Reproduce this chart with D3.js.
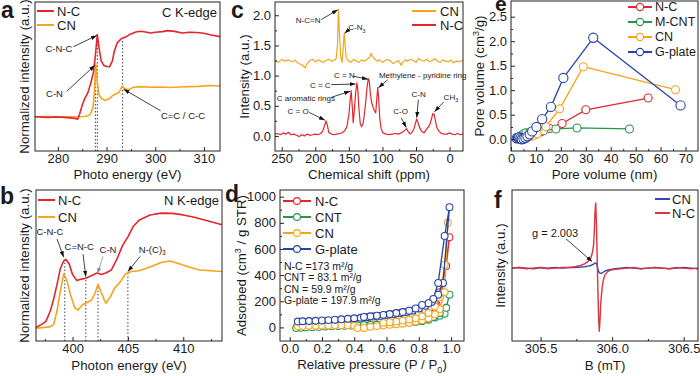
<!DOCTYPE html>
<html>
<head>
<meta charset="utf-8">
<script src="https://cdn.jsdelivr.net/npm/d3@7"></script>
<style>
  body { margin: 0; background: #fff; }
  svg text { fill: #1a1a1a; }
</style>
</head>
<body>
<svg id="fig" width="700" height="376"></svg>
<script>
// ---------- panel a : C K-edge NEXAFS ----------
const aEnergyNC = [275,278,280,282,283.5,284.1,284.5,285,285.5,286.2,286.8,287.3,287.7,288.1,288.5,288.9,289.4,290,290.6,291.2,291.6,292.2,293,294,295,296,297,298,299,300,301.5,302.5,304,305.5,307,308.5,310,311.5,313.5];
const aNC = [0.23,0.226,0.228,0.224,0.219,0.214,0.252,0.307,0.35,0.395,0.461,0.528,0.638,0.782,0.682,0.605,0.576,0.567,0.565,0.605,0.671,0.726,0.753,0.766,0.786,0.799,0.804,0.799,0.792,0.797,0.801,0.808,0.803,0.792,0.797,0.795,0.79,0.779,0.766];
const aEnergyCN = [275,278,281,284,285.5,286.5,287.2,287.5,287.8,288.1,288.5,289,289.7,290.5,291.3,292,292.6,293.2,293.8,294.5,295.5,297,299,301,303,305,307,309,311,313.5];
const aCN = [0.23,0.232,0.229,0.23,0.232,0.24,0.285,0.395,0.583,0.46,0.373,0.35,0.34,0.35,0.373,0.384,0.395,0.435,0.417,0.41,0.428,0.432,0.428,0.43,0.426,0.43,0.432,0.434,0.44,0.436];
const aTicks = [280, 290, 300, 310];
const aMarks = [287.7, 288.1, 293.3];
const aMarkTops = [0.58, 0.78, 0.75];

// ---------- panel b : N K-edge NEXAFS ----------
const bEnergyNC = [396.7,397.2,397.6,398,398.3,398.6,398.9,399.2,399.4,399.7,400,400.4,400.8,401.2,401.8,402.2,402.6,403,403.5,404,404.5,405,405.5,406,407,408,409,410,411,412,413,413.5];
const bNC = [0.09,0.11,0.13,0.2,0.28,0.375,0.48,0.53,0.54,0.51,0.44,0.40,0.41,0.415,0.435,0.45,0.44,0.45,0.47,0.54,0.63,0.69,0.76,0.80,0.835,0.847,0.845,0.835,0.82,0.80,0.78,0.77];
const bEnergyCN = [396.7,397.5,398,398.3,398.6,398.9,399.2,399.5,399.8,400.2,400.5,400.9,401.3,401.7,402,402.3,402.6,403,403.4,403.8,404.3,404.8,405.3,406,407,408,408.8,409.5,410.5,411.5,412.5,413.5];
const bCN = [0.085,0.09,0.095,0.11,0.2,0.33,0.445,0.40,0.31,0.22,0.205,0.24,0.255,0.27,0.31,0.375,0.32,0.25,0.29,0.35,0.39,0.445,0.46,0.465,0.49,0.52,0.53,0.515,0.49,0.47,0.465,0.46];
const bTicks = [400, 405, 410];
const bMarks = [399.3, 401.2, 402.3, 405.0];
const bMarkTops = [0.54, 0.42, 0.375, 0.45];

// ---------- panel c : 13C NMR ----------
const cShiftCN = [260,255,250,245,240,235,230,225,220,215,212,208,204,200,196,192,188,184,180,176,172,169,167,165.5,164,162,160,158.5,157,155.5,154,151,147,143,139,135,131,127,123,119,117,115,112,108,104,100,96,92,88,84,80,76,72,70,66,62,58,54,50,46,42,38,34,30,26,22,18,14,10,6,2,-2,-6,-10,-14,-18,-20];
const cCN = [1.25,1.22,1.27,1.24,1.26,1.23,1.25,1.2,1.18,1.13,1.2,1.25,1.27,1.23,1.26,1.24,1.22,1.25,1.27,1.24,1.25,1.28,1.5,2.1,1.7,1.3,1.22,1.45,1.7,1.5,1.3,1.25,1.22,1.27,1.24,1.22,1.26,1.24,1.27,1.3,1.37,1.32,1.28,1.24,1.26,1.22,1.25,1.27,1.24,1.2,1.23,1.25,1.17,1.22,1.26,1.24,1.27,1.25,1.22,1.28,1.25,1.24,1.27,1.23,1.25,1.28,1.24,1.22,1.26,1.24,1.23,1.26,1.21,1.24,1.23,1.25,1.24];
const cShiftNC = [260,256,252,248,244,240,236,232,228,224,220,216,212,208,204,200,196,192,189,186,184,182,180,176,172,168,164,160,156,153,150,148,146.5,145,143.5,142,140,138,136.5,135,133,131,129,127,125,123,121,119.5,118,116,114,112,110,108.5,107,105.5,104,102,99,95,90,85,80,76,72,68,66,64,62,59,56,53,51,49,47,45,42,38,35,32,29,27,25,23,21,19,16,12,8,4,0,-4,-8,-12,-16,-20];
const cNC = [0.03,0.04,0.02,0.05,0.03,0.06,0.02,0.03,0.01,-0.01,0.02,0.0,0.03,0.01,0.02,0.03,0.02,0.04,0.08,0.18,0.25,0.18,0.06,0.03,0.02,0.03,0.04,0.05,0.09,0.15,0.35,0.6,0.75,0.5,0.22,0.4,0.7,0.88,0.75,0.45,0.2,0.15,0.2,0.35,0.55,0.8,0.95,0.9,0.7,0.55,0.48,0.42,0.38,0.6,0.8,0.6,0.3,0.12,0.05,0.03,0.02,0.03,0.04,0.03,0.05,0.08,0.1,0.12,0.08,0.03,0.06,0.12,0.2,0.28,0.22,0.15,0.08,0.05,0.1,0.14,0.2,0.28,0.37,0.36,0.25,0.14,0.08,0.04,0.03,0.03,0.05,0.03,0.02,0.04,0.02,0.03];
const cXTicks = [250, 200, 150, 100, 50, 0];
const cYTicks = [0, 0.5, 1.0, 1.5, 2.0];

// ---------- panel d : N2 isotherms (adsorption then desorption) ----------
const dPressNC = [0.05,0.08,0.12,0.16,0.2,0.24,0.28,0.32,0.36,0.4,0.44,0.48,0.52,0.56,0.6,0.64,0.68,0.72,0.76,0.8,0.84,0.88,0.91,0.94,0.99,0.97,0.93,0.9,0.87,0.84,0.8,0.76,0.72,0.68,0.64,0.6,0.56,0.52,0.48];
const dNC = [20,22,24,26,28,30,32,34,36,38,40,43,46,50,54,58,64,71,80,92,108,135,175,260,690,470,270,185,150,125,105,90,80,72,65,60,55,50,46];
const dPressCNT = [0.04,0.07,0.1,0.14,0.18,0.22,0.26,0.3,0.34,0.38,0.42,0.46,0.5,0.54,0.58,0.62,0.66,0.7,0.74,0.78,0.82,0.86,0.9,0.93,0.96,0.99,0.97,0.93,0.89,0.85,0.81,0.77,0.73,0.69,0.65];
const dCNT = [-5,-3,0,2,4,6,8,10,12,14,16,18,20,22,25,28,31,34,38,42,48,58,75,90,105,250,150,110,80,65,55,48,42,38,34];
const dPressCN = [0.05,0.08,0.12,0.16,0.2,0.24,0.28,0.32,0.36,0.4,0.42,0.46,0.5,0.54,0.58,0.62,0.66,0.7,0.74,0.78,0.82,0.86,0.9,0.93,0.96,0.98,0.96,0.93,0.9,0.86,0.82,0.78,0.74,0.7,0.66,0.62,0.58];
const dCN = [8,10,12,13,14,15,16,17,18,12,-5,-4,5,10,15,20,24,28,35,45,55,70,100,140,270,800,480,230,160,110,85,70,60,52,45,40,35];
const dPressGP = [0.05,0.08,0.12,0.16,0.2,0.24,0.28,0.32,0.36,0.4,0.44,0.48,0.52,0.56,0.6,0.64,0.68,0.72,0.76,0.8,0.84,0.88,0.92,0.95,0.99,0.96,0.92,0.89,0.86,0.82,0.78,0.74,0.7,0.66,0.62,0.58,0.54,0.5,0.46];
const dGP = [45,47,49,51,53,56,59,62,66,70,74,78,83,88,94,100,108,117,128,145,165,195,250,340,920,700,340,218,185,172,145,128,118,110,102,96,90,85,80];
const dXTicks = [0, 0.2, 0.4, 0.6, 0.8, 1.0];
const dYTicks = [0, 200, 400, 600, 800, 1000];
const dAreas = ["N-C =173 m\u00b2/g", "CNT = 83.1 m\u00b2/g", "CN = 59.9 m\u00b2/g", "G-plate = 197.9 m\u00b2/g"];

// ---------- panel e : pore size distribution ----------
const ePoreNC = [2.8,3.5,4.2,5,6,7,8.5,10,12,15.5,20.5,30,55];
const eNC = [0.02,0.03,0.04,0.05,0.06,0.07,0.09,0.11,0.15,0.22,0.32,0.6,0.84];
const ePoreCNT = [2.8,3.5,4.2,5,6,7.5,9,11,13,18,26.5,47.5];
const eCNT = [0.03,0.05,0.08,0.11,0.13,0.14,0.15,0.16,0.17,0.21,0.23,0.21];
const ePoreCN = [3,3.8,4.5,5.5,6.5,7.5,9,10.5,14,19.5,29,66];
const eCN = [0.0,0.01,0.02,0.03,0.04,0.05,0.07,0.11,0.26,0.62,1.48,1.01];
const ePoreGP = [2.3,2.8,3.3,3.8,4.3,5,5.8,6.6,7.5,8.5,10.2,12.5,16,21,33,68];
const eGP = [0.02,0.03,0.04,0.02,0.0,0.01,0.03,0.06,0.1,0.16,0.25,0.41,0.66,1.25,2.07,0.69];
const eXTicks = [0, 10, 20, 30, 40, 50, 60, 70];
const eYTicks = [0, 0.5, 1.0, 1.5, 2.0, 2.5];

// ---------- panel f : EPR ----------
const fField = [305.30,305.35,305.40,305.45,305.50,305.55,305.60,305.65,305.70,305.74,305.78,305.81,305.83,305.85,305.86,305.87,305.875,305.88,305.885,305.89,305.895,305.90,305.905,305.91,305.915,305.92,305.93,305.94,305.95,305.97,305.99,306.02,306.06,306.10,306.15,306.20,306.25,306.30,306.35,306.40,306.45,306.50,306.55,306.60];
const fNC = [0.00,0.01,-0.01,0.00,0.01,-0.01,0.00,0.01,0.01,0.02,0.04,0.07,0.1,0.15,0.22,0.35,0.55,0.85,1.0,0.7,0.2,-0.3,-0.75,-0.97,-0.8,-0.55,-0.3,-0.17,-0.1,-0.05,-0.03,-0.02,-0.01,0.0,0.01,-0.01,0.0,0.01,0.0,-0.01,0.01,0.0,-0.01,0.0];
const fCN = [0.0,0.01,0.0,-0.01,0.01,0.0,0.01,0.0,0.01,0.01,0.015,0.02,0.03,0.04,0.05,0.06,0.07,0.075,0.08,0.07,0.04,-0.01,-0.05,-0.07,-0.08,-0.08,-0.075,-0.06,-0.045,-0.03,-0.02,-0.01,0.0,0.01,0.0,-0.01,0.0,0.01,0.0,-0.01,0.0,0.01,0.0,-0.01];
const fTicks = [305.5, 306.0, 306.5];

// colours
const RED = "#e3262b", ORANGE = "#f7a41d", GREEN = "#27954a", BLUE = "#2644a3";
const TITLE = 13.3, TICK = 13;

const svg = d3.select("#fig").attr("font-family", "'Liberation Sans', Arial, sans-serif");
const defs = svg.append("defs");
["#111", "#8a8a8a"].forEach(function(c, i){
  defs.append("marker").attr("id", "arr" + i)
    .attr("viewBox", "0 0 10 10").attr("refX", 10).attr("refY", 5)
    .attr("markerWidth", 6).attr("markerHeight", 6)
    .attr("markerUnits", "userSpaceOnUse").attr("orient", "auto")
    .append("path").attr("d", "M0,1.5L10,5L0,8.5z").attr("fill", c);
});

// writes text with super/subscripts: parts = [[str, "sup"|"sub"|undefined], ...]
function rich(sel, parts, fs){
  let shift = 0;
  parts.forEach(function(p){
    const target = p[1] === "sup" ? -fs * 0.38 : p[1] === "sub" ? fs * 0.28 : 0;
    const ts = sel.append("tspan").text(p[0]).attr("dy", target - shift);
    if (p[1]) ts.attr("font-size", fs * 0.68);
    shift = target;
  });
  return sel;
}

function makePanel(p){
  const P = {p: p};
  P.x = d3.scaleLinear().domain(p.xd).range([p.l, p.r]);
  P.y = d3.scaleLinear().domain(p.yd).range([p.b, p.t]);
  defs.append("clipPath").attr("id", "clip-" + p.id).append("rect")
    .attr("x", p.l).attr("y", p.t).attr("width", p.r - p.l).attr("height", p.b - p.t);
  P.plot = svg.append("g").attr("clip-path", "url(#clip-" + p.id + ")");
  P.over = svg.append("g");
  return P;
}

function finishPanel(P){
  const p = P.p, g = P.over;
  g.append("g").attr("transform", "translate(0," + p.b + ")")
    .call(d3.axisBottom(P.x).tickValues(p.xt).tickFormat(p.xf).tickSize(-4).tickSizeOuter(0).tickPadding(3));
  if (p.xm) g.append("g").attr("transform", "translate(0," + p.b + ")")
    .call(d3.axisBottom(P.x).tickValues(p.xm).tickFormat("").tickSize(-2).tickSizeOuter(0));
  if (p.yt) {
    g.append("g").attr("transform", "translate(" + p.l + ",0)")
      .call(d3.axisLeft(P.y).tickValues(p.yt).tickFormat(p.yf).tickSize(-4).tickSizeOuter(0).tickPadding(4));
    if (p.ym) g.append("g").attr("transform", "translate(" + p.l + ",0)")
      .call(d3.axisLeft(P.y).tickValues(p.ym).tickFormat("").tickSize(-2).tickSizeOuter(0));
  }
  g.selectAll(".domain").remove();
  g.selectAll(".tick line").attr("stroke", "#222");
  g.selectAll(".tick text").attr("font-size", TICK).attr("fill", "#1a1a1a");
  // frame
  g.append("rect").attr("x", p.l).attr("y", p.t).attr("width", p.r - p.l).attr("height", p.b - p.t)
    .attr("fill", "none").attr("stroke", "#222").attr("stroke-width", 1);
  // titles
  rich(g.append("text").attr("x", (p.l + p.r) / 2).attr("y", p.xtY).attr("text-anchor", "middle")
    .attr("font-size", TITLE), p.xTitle, TITLE);
  rich(g.append("text").attr("transform", "translate(" + p.ytX + "," + ((p.t + p.b) / 2) + ") rotate(-90)")
    .attr("text-anchor", "middle").attr("font-size", TITLE), p.yTitle, TITLE);
  g.append("text").attr("x", p.letter[0]).attr("y", p.letter[1]).attr("font-size", p.letter[2] || 23)
    .attr("font-weight", "bold").text(p.id);
}

function curve(P, xs, ys, color, w){
  const line = d3.line().x(function(d){ return P.x(d[0]); }).y(function(d){ return P.y(d[1]); });
  P.plot.append("path").datum(d3.zip(xs, ys)).attr("d", line)
    .attr("fill", "none").attr("stroke", color).attr("stroke-width", w).attr("stroke-linejoin", "round");
}

function markers(P, xs, ys, color, r){
  P.plot.append("g").selectAll("circle").data(d3.zip(xs, ys)).join("circle")
    .attr("cx", function(d){ return P.x(d[0]); }).attr("cy", function(d){ return P.y(d[1]); })
    .attr("r", r).attr("fill", "#fff").attr("stroke", color).attr("stroke-width", 1.1);
}

// arrow annotation: n = {t:[parts], tx, ty, x1, y1, x2, y2, fs, anchor, gray}
function note(P, n){
  const fs = n.fs || 9.5;
  rich(P.over.append("text").attr("x", P.x(n.tx)).attr("y", P.y(n.ty))
    .attr("text-anchor", n.anchor || "middle").attr("font-size", fs), n.t, fs);
  P.over.append("line").attr("x1", P.x(n.x1)).attr("y1", P.y(n.y1))
    .attr("x2", P.x(n.x2)).attr("y2", P.y(n.y2))
    .attr("stroke", n.gray ? "#8a8a8a" : "#111").attr("stroke-width", 0.8)
    .attr("marker-end", n.gray ? "url(#arr1)" : "url(#arr0)");
}

function dropLines(P, xs, tops){
  P.plot.append("g").selectAll("line").data(d3.zip(xs, tops)).join("line")
    .attr("x1", function(d){ return P.x(d[0]); }).attr("x2", function(d){ return P.x(d[0]); })
    .attr("y1", P.y.range()[0]).attr("y2", function(d){ return P.y(d[1]); })
    .attr("stroke", "#444").attr("stroke-width", 1).attr("stroke-dasharray", "1.5,2");
}

function lineLegend(g, items, x0, x1, tx, ys, fs, r){
  items.forEach(function(it, i){
    g.append("line").attr("x1", x0).attr("x2", x1).attr("y1", ys[i]).attr("y2", ys[i])
      .attr("stroke", it[1]).attr("stroke-width", 2);
    if (r) g.append("circle").attr("cx", (x0 + x1) / 2).attr("cy", ys[i]).attr("r", r)
      .attr("fill", "#fff").attr("stroke", it[1]).attr("stroke-width", 1.1);
    g.append("text").attr("x", tx).attr("y", ys[i]).attr("dy", "0.35em").attr("font-size", fs).text(it[0]);
  });
}

// ================= a =================
const A = makePanel({id: "a", l: 35, r: 220, t: 2, b: 151, xd: [275.3, 313.3], yd: [0, 1],
  xt: aTicks, xf: d3.format("d"), xm: [285, 295, 305],
  xTitle: [["Photo energy (eV)"]], yTitle: [["Normalized intensity (a.u.)"]],
  xtY: 179, ytX: 29, letter: [1, 18]});
dropLines(A, aMarks, aMarkTops);
curve(A, aEnergyCN, aCN, ORANGE, 1.6);
curve(A, aEnergyNC, aNC, RED, 1.6);
note(A, {t: [["C-N-C"]], tx: 280.2, ty: 0.665, x1: 283.2, y1: 0.70, x2: 288.0, y2: 0.775});
note(A, {t: [["C-N"]], tx: 279.3, ty: 0.36, x1: 281.8, y1: 0.40, x2: 287.6, y2: 0.575});
note(A, {t: [["C=C / C-C"]], tx: 305.7, ty: 0.218, x1: 301.1, y1: 0.27, x2: 293.5, y2: 0.415});
finishPanel(A);
lineLegend(A.over, [["N-C", RED], ["CN", ORANGE]], 37, 54, 57, [11, 25], 13);
A.over.append("text").attr("x", 217).attr("y", 17).attr("text-anchor", "end").attr("font-size", 13).text("C K-edge");

// ================= b =================
const B = makePanel({id: "b", l: 36, r: 222, t: 190, b: 341, xd: [396.7, 413.5], yd: [0, 1],
  xt: bTicks, xf: d3.format("d"), xm: [397.5, 402.5, 407.5, 412.5],
  xTitle: [["Photon energy (eV)"]], yTitle: [["Normalized intensity (a.u.)"]],
  xtY: 370, ytX: 29, letter: [0, 204]});
dropLines(B, bMarks, bMarkTops);
curve(B, bEnergyCN, bCN, ORANGE, 1.6);
curve(B, bEnergyNC, bNC, RED, 1.6);
note(B, {t: [["C-N-C"]], tx: 397.96, ty: 0.70, x1: 398.6, y1: 0.675, x2: 399.2, y2: 0.555});
note(B, {t: [["C=N-C"]], tx: 400.6, ty: 0.60, x1: 400.95, y1: 0.575, x2: 401.2, y2: 0.425});
note(B, {t: [["C-N"]], tx: 403.2, ty: 0.585, x1: 402.75, y1: 0.56, x2: 402.25, y2: 0.445, gray: true});
note(B, {t: [["N-(C)"], ["3", "sub"]], tx: 407.2, ty: 0.585, x1: 406.1, y1: 0.56, x2: 405.0, y2: 0.46});
finishPanel(B);
lineLegend(B.over, [["N-C", RED], ["CN", ORANGE]], 38, 55, 58, [200, 217], 13);
B.over.append("text").attr("x", 219).attr("y", 205).attr("text-anchor", "end").attr("font-size", 13).text("N K-edge");

// ================= c =================
const C = makePanel({id: "c", l: 275, r: 463, t: 2, b: 151, xd: [260, -20], yd: [-0.25, 2.22],
  xt: cXTicks, xf: d3.format("d"), xm: [225, 175, 125, 75, 25],
  yt: cYTicks, yf: d3.format(".1f"), ym: [0.25, 0.75, 1.25, 1.75],
  xTitle: [["Chemical shift (ppm)"]], yTitle: [["Intensity (a.u.)"]],
  xtY: 179, ytX: 249, letter: [231, 18]});
curve(C, cShiftCN, cCN, ORANGE, 1.2);
curve(C, cShiftNC, cNC, RED, 1.2);
const cfs = 8;
note(C, {t: [["N-C=N"]], tx: 210.6, ty: 1.87, x1: 191, y1: 1.93, x2: 166.5, y2: 2.09, fs: cfs});
note(C, {t: [["C-N"], ["3", "sub"]], tx: 138, ty: 1.75, x1: 149, y1: 1.77, x2: 156.5, y2: 1.7, fs: cfs});
note(C, {t: [["C = N"]], tx: 156.7, ty: 0.965, x1: 143.2, y1: 0.99, x2: 121.5, y2: 0.94, fs: cfs});
note(C, {t: [["C = C"]], tx: 192.6, ty: 0.80, x1: 176.2, y1: 0.85, x2: 140, y2: 0.86, fs: cfs});
note(C, {t: [["C aromatic rings"]], tx: 214, ty: 0.58, x1: 176, y1: 0.64, x2: 148, y2: 0.74, fs: cfs});
note(C, {t: [["Methylene - pyridine ring"]], tx: 40, ty: 0.965, x1: 92.3, y1: 0.93, x2: 106, y2: 0.8, fs: cfs});
note(C, {t: [["C = O"]], tx: 225.6, ty: 0.36, x1: 209, y1: 0.39, x2: 185.5, y2: 0.26, fs: cfs});
note(C, {t: [["C-O"]], tx: 73, ty: 0.36, x1: 72, y1: 0.3, x2: 64.5, y2: 0.14, fs: cfs});
note(C, {t: [["C-N"]], tx: 46, ty: 0.64, x1: 46.5, y1: 0.6, x2: 48.8, y2: 0.3, fs: cfs});
note(C, {t: [["CH"], ["3", "sub"]], tx: -2, ty: 0.6, x1: 9, y1: 0.56, x2: 22.5, y2: 0.4, fs: cfs});
finishPanel(C);
lineLegend(C.over, [["CN", ORANGE], ["N-C", RED]], 412, 436, 440, [11, 25], 13);

// ================= d =================
const D = makePanel({id: "d", l: 280, r: 464, t: 190, b: 341, xd: [-0.06, 1.08], yd: [-104, 1051],
  xt: dXTicks, xf: d3.format(".1f"), xm: [0.1, 0.3, 0.5, 0.7, 0.9],
  yt: dYTicks, yf: d3.format("d"), ym: [100, 300, 500, 700, 900],
  xTitle: [["Relative pressure (P / P"], ["0", "sub"], [")"]],
  yTitle: [["Adsorbed (cm"], ["3", "sup"], [" / g STR)"]],
  xtY: 369, ytX: 246, letter: [225, 202]});
[[dPressNC, dNC, RED], [dPressCNT, dCNT, GREEN], [dPressCN, dCN, ORANGE], [dPressGP, dGP, BLUE]].forEach(function(s){
  curve(D, s[0], s[1], s[2], 1.3);
  markers(D, s[0], s[1], s[2], 3.4);
});
finishPanel(D);
lineLegend(D.over, [["N-C", RED], ["CNT", GREEN], ["CN", ORANGE], ["G-plate", BLUE]], 283, 311, 315, [201, 217, 233, 249], 13, 3.4);
D.over.append("g").selectAll("text").data(dAreas).join("text")
  .attr("x", 284).attr("y", function(d, i){ return 270 + i * 11.3; })
  .attr("font-size", 10.5).text(function(d){ return d; });

// ================= e =================
const E = makePanel({id: "e", l: 511, r: 698, t: 1, b: 151, xd: [0, 75], yd: [-0.24, 2.82],
  xt: eXTicks, xf: d3.format("d"), xm: [5, 15, 25, 35, 45, 55, 65],
  yt: eYTicks, yf: d3.format(".1f"), ym: [0.25, 0.75, 1.25, 1.75, 2.25],
  xTitle: [["Pore volume (nm)"]], yTitle: [["Pore volume (cm"], ["3", "sup"], ["/g)"]],
  xtY: 179, ytX: 484, letter: [495, 11, 21]});
[[ePoreNC, eNC, RED, 4], [ePoreCNT, eCNT, GREEN, 4], [ePoreCN, eCN, ORANGE, 4], [ePoreGP, eGP, BLUE, 4.6]].forEach(function(s){
  curve(E, s[0], s[1], s[2], 1.3);
  markers(E, s[0], s[1], s[2], s[3]);
});
finishPanel(E);
lineLegend(E.over, [["N-C", RED], ["M-CNT", GREEN], ["CN", ORANGE], ["G-plate", BLUE]], 628, 652, 655, [7, 22, 37, 52], 12.5, 3.6);

// ================= f =================
const F = makePanel({id: "f", l: 512, r: 698, t: 190, b: 341, xd: [305.3, 306.6], yd: [-1.12, 1.2],
  xt: fTicks, xf: d3.format(".1f"), xm: [305.75, 306.25],
  xTitle: [["B (mT)"]], yTitle: [["Intensity (a.u.)"]],
  xtY: 370, ytX: 505, letter: [494, 208]});
curve(F, fField, fCN, "#2a4bb0", 1.4);
curve(F, fField, fNC, "#e0323c", 1.4);
note(F, {t: [["g = 2.003"]], tx: 305.44, ty: 0.48, x1: 305.677, y1: 0.45, x2: 305.86, y2: 0.1, fs: 11, anchor: "start"});
finishPanel(F);
lineLegend(F.over, [["CN", "#2a4bb0"], ["N-C", "#e0323c"]], 655, 670, 672, [199, 213], 13);
</script>
</body>
</html>
